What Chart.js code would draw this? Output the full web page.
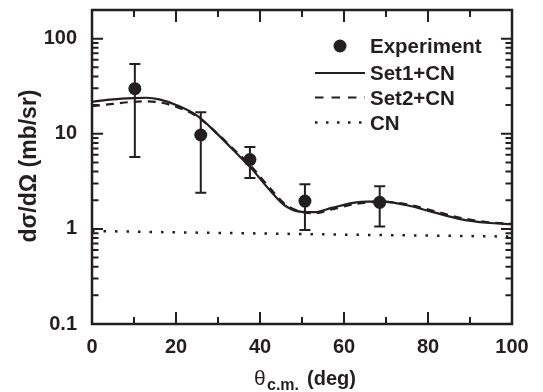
<!DOCTYPE html>
<html><head><meta charset="utf-8">
<script src="https://cdn.jsdelivr.net/npm/chart.js@4/dist/chart.umd.min.js"></script>
<style>html,body{margin:0;padding:0;background:#fff;overflow:hidden}</style>
</head><body>
<canvas id="c" width="543" height="392"></canvas>
<script>
// ---- data ----
const curveX = [0, 5, 10, 13, 16, 20, 25, 30, 34, 38, 42, 46, 50, 53, 57, 63, 69, 75, 81, 88, 94, 100];
const set1   = [21.7, 23.0, 23.7, 23.9, 23.0, 20.1, 15.5, 9.8, 6.5, 4.3, 2.65, 1.75, 1.51, 1.50, 1.66, 1.90, 1.95, 1.77, 1.51, 1.26, 1.16, 1.12];
const set2   = [19.5, 20.6, 21.7, 21.9, 21.4, 19.2, 15.2, 9.9, 6.7, 4.5, 2.80, 1.82, 1.50, 1.46, 1.60, 1.84, 1.93, 1.81, 1.56, 1.30, 1.18, 1.13];
const cnX    = [0, 20, 40, 60, 80, 100];
const cnY    = [0.95, 0.92, 0.895, 0.87, 0.85, 0.83];
const expX   = [10.2, 25.9, 37.6, 50.7, 68.5];
const expY   = [29.8, 9.7, 5.35, 1.96, 1.90];
const expLo  = [5.7, 2.40, 3.42, 0.976, 1.06];
const expHi  = [54, 16.8, 7.27, 2.94, 2.80];
const xTicks = [0, 10, 20, 30, 40, 50, 60, 70, 80, 90, 100];
const xTickLabels = ['0', '20', '40', '60', '80', '100'];
const yTicks = [0.1, 0.2, 0.3, 0.4, 0.5, 0.6, 0.7, 0.8, 0.9,
                1, 2, 3, 4, 5, 6, 7, 8, 9,
                10, 20, 30, 40, 50, 60, 70, 80, 90, 100];
const yTickLabels = ['0.1', '1', '10', '100'];
const legendLabels = ['Experiment', 'Set1+CN', 'Set2+CN', 'CN'];

const ink = '#231f20';
const FAM = '"Liberation Sans", Arial, Helvetica, sans-serif';

const pts = (xs, ys) => xs.map((x, i) => ({x: x, y: ys[i]}));

const errorBars = {
  id: 'errorBars',
  beforeDatasetsDraw(chart) {
    const {ctx, scales: {x, y}} = chart;
    ctx.save();
    ctx.strokeStyle = ink; ctx.lineWidth = 2; ctx.lineCap = 'butt';
    expX.forEach((v, i) => {
      const px = x.getPixelForValue(v);
      const p1 = y.getPixelForValue(expLo[i]);
      const p2 = y.getPixelForValue(expHi[i]);
      ctx.beginPath();
      ctx.moveTo(px, p1); ctx.lineTo(px, p2);
      ctx.moveTo(px - 5.5, p1); ctx.lineTo(px + 5.5, p1);
      ctx.moveTo(px - 5.5, p2); ctx.lineTo(px + 5.5, p2);
      ctx.stroke();
    });
    ctx.restore();
  }
};

const frame = {
  id: 'frame',
  afterDraw(chart) {
    const {ctx, chartArea: ca, scales: {x, y}} = chart;
    ctx.save();
    ctx.strokeStyle = ink; ctx.lineWidth = 2;
    ctx.beginPath();
    x.ticks.forEach(t => {
      const px = x.getPixelForValue(t.value);
      const L = xTickLabels.includes(String(t.value)) ? 12 : 7;
      ctx.moveTo(px, ca.bottom); ctx.lineTo(px, ca.bottom - L);
      ctx.moveTo(px, ca.top); ctx.lineTo(px, ca.top + L);
    });
    y.ticks.forEach(t => {
      const py = y.getPixelForValue(t.value);
      const L = yTickLabels.includes(String(t.value)) ? 11 : 6.5;
      ctx.moveTo(ca.left, py); ctx.lineTo(ca.left + L, py);
      ctx.moveTo(ca.right, py); ctx.lineTo(ca.right - L, py);
    });
    ctx.stroke();
    ctx.lineWidth = 2.5;
    ctx.strokeRect(ca.left, ca.top, ca.right - ca.left, ca.bottom - ca.top);

    // legend
    const rows = [46, 73, 97.5, 122.5];
    const tx = 370, lx0 = 315, lx1 = 365;
    ctx.fillStyle = ink;
    ctx.font = 'bold 20.5px ' + FAM;
    ctx.textAlign = 'left'; ctx.textBaseline = 'alphabetic';
    legendLabels.forEach((s, i) => ctx.fillText(s, tx, rows[i] + 7.4));
    ctx.beginPath(); ctx.arc(340, rows[0], 6.5, 0, Math.PI * 2); ctx.fill();
    ctx.lineWidth = 2.2;
    ctx.setLineDash([]);
    ctx.beginPath(); ctx.moveTo(lx0, rows[1]); ctx.lineTo(lx1, rows[1]); ctx.stroke();
    ctx.setLineDash([8.5, 8]);
    ctx.beginPath(); ctx.moveTo(lx0, rows[2]); ctx.lineTo(lx1, rows[2]); ctx.stroke();
    ctx.setLineDash([2.5, 8.5]);
    ctx.lineWidth = 2.5;
    ctx.beginPath(); ctx.moveTo(lx0, rows[3]); ctx.lineTo(lx1, rows[3]); ctx.stroke();
    ctx.setLineDash([]);

    // x-axis title
    ctx.font = '21px ' + FAM;
    ctx.fillText('\u03b8', 254, 385);
    ctx.font = 'bold 16px ' + FAM;
    ctx.fillText('c.m.', 267, 389.5);
    ctx.font = 'bold 20px ' + FAM;
    ctx.fillText('(deg)', 307, 385);

    // y-axis title
    ctx.save();
    ctx.translate(36, 166);
    ctx.rotate(-Math.PI / 2);
    ctx.textAlign = 'center';
    ctx.font = 'bold 23px ' + FAM;
    ctx.fillText('d\u03c3/d\u03a9 (mb/sr)', 0, 0);
    ctx.restore();
    ctx.restore();
  }
};

new Chart(document.getElementById('c'), {
  type: 'line',
  data: {
    datasets: [
      {label: legendLabels[0], type: 'scatter', data: pts(expX, expY), showLine: false,
       pointRadius: 6.5, pointBackgroundColor: ink, pointBorderWidth: 0, order: 0},
      {label: legendLabels[1], data: pts(curveX, set1), borderColor: ink, borderWidth: 2.2,
       pointRadius: 0, cubicInterpolationMode: 'monotone', order: 1},
      {label: legendLabels[2], data: pts(curveX, set2), borderColor: ink, borderWidth: 2.2,
       borderDash: [8, 6], pointRadius: 0, cubicInterpolationMode: 'monotone', order: 2},
      {label: legendLabels[3], data: pts(cnX, cnY), borderColor: ink, borderWidth: 2.5,
       borderDash: [2.5, 9], pointRadius: 0, cubicInterpolationMode: 'monotone', order: 3}
    ]
  },
  options: {
    responsive: false, animation: false, devicePixelRatio: 1,
    layout: {padding: {top: 10, right: 31, left: 0, bottom: 0}},
    plugins: {legend: {display: false}, tooltip: {enabled: false}},
    scales: {
      x: {
        type: 'linear', min: 0, max: 100,
        grid: {display: false, drawTicks: false}, border: {display: false},
        afterBuildTicks: s => { s.ticks = xTicks.map(v => ({value: v})); },
        afterFit: s => { s.height = 68; s.paddingLeft = 0; s.paddingRight = 0; },
        ticks: {
          autoSkip: false, maxRotation: 0, padding: 11, color: ink,
          font: {family: FAM, size: 20, weight: 'bold'},
          callback: v => xTickLabels.includes(String(v)) ? String(v) : ''
        }
      },
      y: {
        type: 'logarithmic', min: 0.1, max: 200,
        grid: {display: false, drawTicks: false}, border: {display: false},
        afterBuildTicks: s => { s.ticks = yTicks.map(v => ({value: v})); },
        afterFit: s => { s.width = 92; s.paddingTop = 0; s.paddingBottom = 0; },
        ticks: {
          autoSkip: false, padding: 15, color: ink,
          font: {family: FAM, size: 20, weight: 'bold'},
          callback: v => yTickLabels.includes(String(v)) ? String(v) : ''
        }
      }
    }
  },
  plugins: [errorBars, frame]
});
</script>
</body></html>
